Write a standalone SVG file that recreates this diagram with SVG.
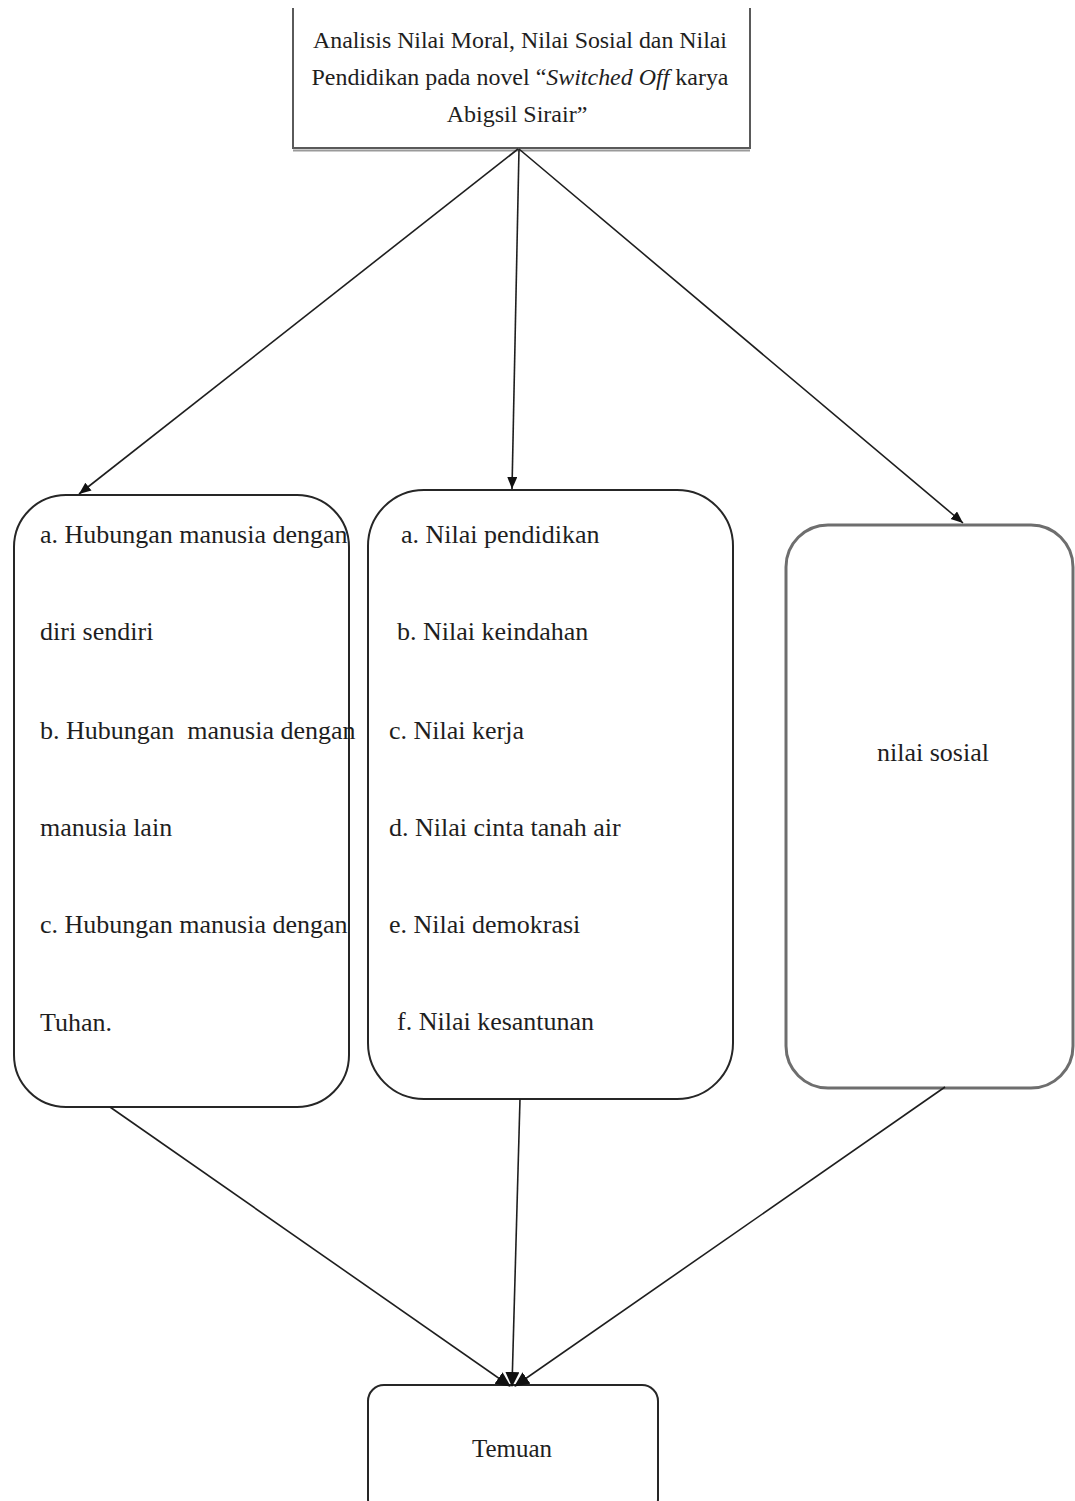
<svg xmlns="http://www.w3.org/2000/svg" width="1075" height="1501" viewBox="0 0 1075 1501">
  <style>
    text { font-family: "Liberation Serif", "Times New Roman", serif; fill: #1e1e1e; white-space: pre; }
    .t24 { font-size: 24px; }
    .t26 { font-size: 26px; }
    .box { fill: #ffffff; stroke: #262626; stroke-width: 2; }
    .gbox { fill: #ffffff; stroke: #6e6e6e; stroke-width: 3; }
    .edge { fill: none; stroke: #1e1e1e; stroke-width: 1.6; }
  </style>
  <defs>
    <marker id="arr" markerUnits="userSpaceOnUse" markerWidth="14" markerHeight="12" refX="12" refY="5" orient="auto">
      <path d="M0,0 L12,5 L0,10 Z" fill="#111111"/>
    </marker>
    <marker id="arrb" markerUnits="userSpaceOnUse" markerWidth="18" markerHeight="16" refX="14" refY="7" orient="auto">
      <path d="M0,0 L15,7 L0,14 Z" fill="#111111"/>
    </marker>
  </defs>
  <rect width="1075" height="1501" fill="#ffffff"/>

  <g id="node-top">
    <path d="M293,8 V148 H750 V8" fill="#ffffff" stroke="#5a5a5a" stroke-width="2"/>
    <line x1="293" y1="150.5" x2="750" y2="150.5" stroke="#9a9a9a" stroke-width="2"/>
    <text class="t24" x="520" y="48" text-anchor="middle" textLength="414" lengthAdjust="spacingAndGlyphs">Analisis Nilai Moral, Nilai Sosial dan Nilai</text>
    <text class="t24" x="520" y="85" text-anchor="middle" textLength="417" lengthAdjust="spacingAndGlyphs">Pendidikan pada novel “<tspan font-style="italic">Switched Off</tspan> karya</text>
    <text class="t24" x="517" y="122" text-anchor="middle">Abigsil Sirair”</text>
  </g>

  <g id="node-moral">
    <rect class="box" x="14" y="495" width="335" height="612" rx="52" ry="52"/>
    <g class="t26">
      <text x="40" y="543">a. Hubungan manusia dengan</text>
      <text x="40" y="640">diri sendiri</text>
      <text x="40" y="739">b. Hubungan  manusia dengan</text>
      <text x="40" y="836">manusia lain</text>
      <text x="40" y="933">c. Hubungan manusia dengan</text>
      <text x="40" y="1031">Tuhan.</text>
    </g>
  </g>

  <g id="node-pendidikan">
    <rect class="box" x="368" y="490" width="365" height="609" rx="56" ry="56"/>
    <g class="t26">
      <text x="401" y="543">a. Nilai pendidikan</text>
      <text x="397" y="640">b. Nilai keindahan</text>
      <text x="389" y="739">c. Nilai kerja</text>
      <text x="389" y="836">d. Nilai cinta tanah air</text>
      <text x="389" y="933">e. Nilai demokrasi</text>
      <text x="397" y="1030">f. Nilai kesantunan</text>
    </g>
  </g>

  <g id="node-sosial">
    <rect class="gbox" x="786" y="525" width="287" height="563" rx="42" ry="42"/>
    <text class="t26" x="933" y="761" text-anchor="middle">nilai sosial</text>
  </g>

  <g id="node-temuan">
    <rect class="box" x="368" y="1385" width="290" height="130" rx="16" ry="16"/>
    <text x="512" y="1457" text-anchor="middle" style="font-size:25px">Temuan</text>
  </g>

  <g id="connectors">
    <line class="edge" x1="518" y1="149" x2="79" y2="494" marker-end="url(#arr)"/>
    <line class="edge" x1="519" y1="149" x2="512" y2="489" marker-end="url(#arr)"/>
    <line class="edge" x1="519" y1="149" x2="963" y2="523" marker-end="url(#arr)"/>
    <line class="edge" x1="110" y1="1107" x2="510" y2="1386" marker-end="url(#arrb)"/>
    <line class="edge" x1="520" y1="1099" x2="512" y2="1386" marker-end="url(#arrb)"/>
    <line class="edge" x1="945" y1="1087" x2="515" y2="1386" marker-end="url(#arrb)"/>
  </g>
</svg>
